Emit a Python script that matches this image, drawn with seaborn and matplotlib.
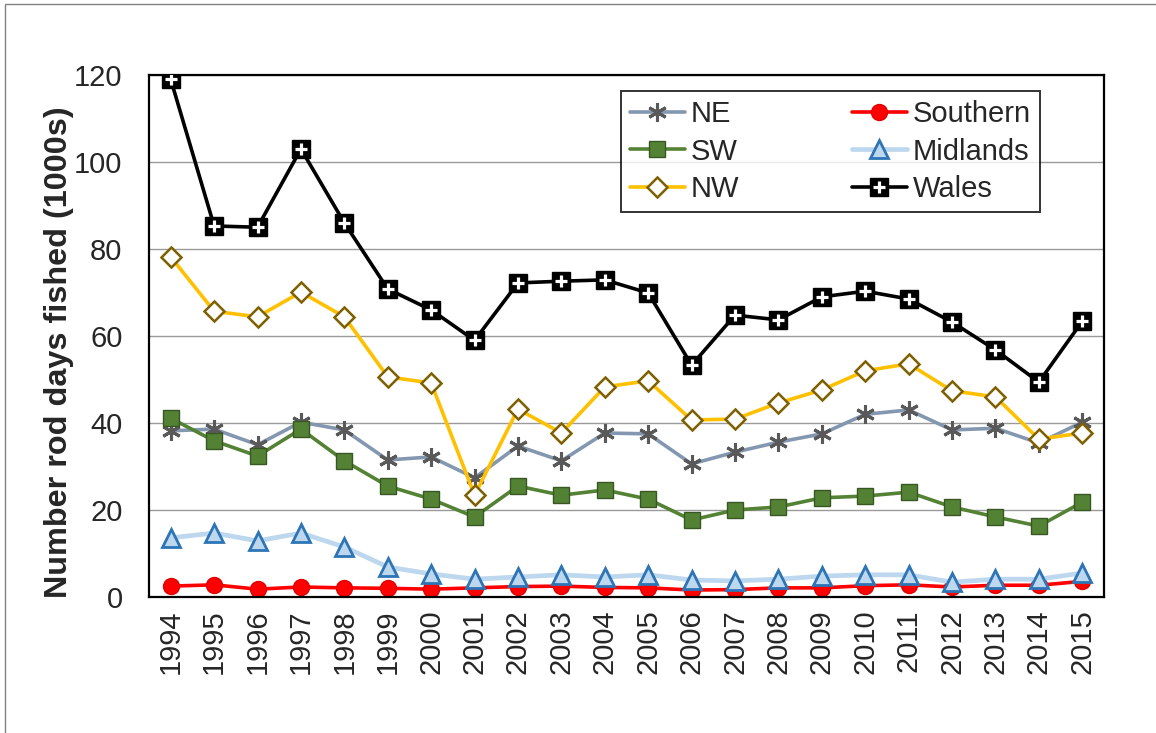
import matplotlib
matplotlib.use("Agg")
import matplotlib.pyplot as plt
import seaborn as sns
import pandas as pd
from matplotlib.lines import Line2D
from matplotlib.patches import Rectangle

years = list(range(1994, 2016))
ne = [38.2, 38.6, 35.0, 40.2, 38.4, 31.5, 32.2, 27.4, 34.7, 31.3, 37.7, 37.5,
      30.6, 33.3, 35.6, 37.5, 42.0, 43.0, 38.4, 38.8, 35.4, 40.2]
southern = [2.5, 2.8, 1.8, 2.3, 2.1, 2.0, 1.8, 2.1, 2.4, 2.5, 2.2, 2.1,
            1.6, 1.7, 2.1, 2.1, 2.6, 2.8, 2.3, 2.7, 2.7, 3.6]
sw = [41.1, 35.9, 32.4, 38.6, 31.3, 25.5, 22.5, 18.4, 25.5, 23.4, 24.6, 22.5,
      17.7, 20.0, 20.7, 22.8, 23.2, 24.1, 20.7, 18.4, 16.3, 21.8]
midlands = [13.6, 14.7, 12.9, 14.7, 11.5, 6.9, 5.3, 4.1, 4.6, 5.1, 4.6, 5.1,
            3.9, 3.7, 4.1, 4.8, 5.1, 5.1, 3.4, 4.1, 4.1, 5.5]
nw = [78.2, 65.7, 64.4, 70.1, 64.4, 50.6, 49.2, 23.4, 43.2, 37.7, 48.3, 49.7,
      40.7, 40.9, 44.6, 47.6, 52.0, 53.6, 47.4, 46.0, 36.3, 37.7]
wales = [119.0, 85.3, 85.0, 103.0, 86.0, 70.8, 66.0, 59.0, 72.2, 72.6, 72.9, 69.9,
         53.3, 64.8, 63.7, 69.0, 70.3, 68.5, 63.2, 56.8, 49.4, 63.4]
y_ticks = [0, 20, 40, 60, 80, 100, 120]

df = pd.DataFrame({"pos": range(len(years)), "NE": ne, "Southern": southern, "SW": sw,
                   "Midlands": midlands, "NW": nw, "Wales": wales})

sns.set_style("white")
plt.rcParams['font.family'] = ['Liberation Sans', 'DejaVu Sans']

fig = plt.figure(figsize=(11.56, 7.33), dpi=100)
ax = fig.add_axes([149/1156, 1-597/733, (1104-149)/1156, (597-75)/733])

fig.patches.append(Rectangle((5/1156, -0.5), 1.5, 1-4/733+0.5, transform=fig.transFigure,
                             fill=False, edgecolor='#808080', linewidth=1.0))

lw = 2.6
styles = {
    "Southern": dict(color='#FF0000', marker='o', markersize=11.5, markerfacecolor='#FF0000',
                     markeredgecolor='#E00000', markeredgewidth=1, linewidth=lw),
    "Midlands": dict(color='#BDD7EE', marker='^', markersize=12.5, markerfacecolor='#BDD7EE',
                     markeredgecolor='#2E75B6', markeredgewidth=2, linewidth=3.4),
    "NE": dict(color='#8497B0', marker=(6, 2, 0), markersize=13.5, markerfacecolor='#595959',
               markeredgecolor='#595959', markeredgewidth=2.2, linewidth=lw),
    "SW": dict(color='#548235', marker='s', markersize=12, markerfacecolor='#548235',
               markeredgecolor='#385723', markeredgewidth=1, linewidth=lw),
    "NW": dict(color='#FFC000', marker='D', markersize=10.5, markerfacecolor='white',
               markeredgecolor='#7F6000', markeredgewidth=1.8, linewidth=lw),
    "Wales": dict(color='black', marker='s', markersize=12.5, markerfacecolor='black',
                  markeredgecolor='black', markeredgewidth=1, linewidth=lw),
}

for name in ["Southern", "Midlands", "NE", "SW", "NW", "Wales"]:
    st = styles[name]
    sns.lineplot(data=df, x="pos", y=name, ax=ax, **st)

sns.scatterplot(data=df, x="pos", y="Wales", ax=ax, marker='+', s=75, color='white',
                linewidth=2.3, zorder=5)

ax.set_xlim(-0.5, len(years) - 0.5)
ax.set_ylim(0, 120)
ax.set_yticks(y_ticks)
ax.set_yticklabels([str(v) for v in y_ticks], fontsize=21)
ax.set_xticks(range(len(years)))
ax.set_xticklabels([str(y) for y in years], rotation=90, fontsize=21)
ax.set_xticks([i - 0.5 for i in range(len(years) + 1)], minor=True)
ax.tick_params(axis='x', which='major', length=0, pad=9)
ax.tick_params(axis='x', which='minor', length=8, width=1.2, color='black', direction='out')
ax.tick_params(axis='y', which='major', length=8, width=1.2, color='black', direction='out', pad=11)
ax.grid(axis='y', color='#9A9A9A', linewidth=1.0)
ax.set_axisbelow(True)
for s in ax.spines.values():
    s.set_visible(True)
    s.set_color('black')
    s.set_linewidth(1.6)
ax.set_xlabel("")
ax.set_ylabel("Number rod days fished (1000s)", fontsize=23.3, fontweight='bold')
ax.yaxis.set_label_coords((74 - 149) / 955, (597 - 352) / 522)

def h(name):
    st = styles[name]
    return Line2D([], [], **st)

plus = Line2D([], [], linestyle='none', marker='+', markersize=8.5, color='white', markeredgewidth=2.3)
handles = [h("NE"), h("SW"), h("NW"), h("Southern"), h("Midlands"), (h("Wales"), plus)]
labels = ["NE", "SW", "NW", "Southern", "Midlands", "Wales"]
leg = ax.legend(handles, labels, ncol=2, loc='upper left', bbox_to_anchor=(0.494, 0.969),
                borderaxespad=0, fontsize=21, frameon=True, fancybox=False,
                handlelength=1.9, handletextpad=0.2, columnspacing=3.85, labelspacing=0.33,
                borderpad=0.3)
leg.get_frame().set_edgecolor('black')
leg.get_frame().set_linewidth(1.4)

fig.savefig("out.png", dpi=100)
